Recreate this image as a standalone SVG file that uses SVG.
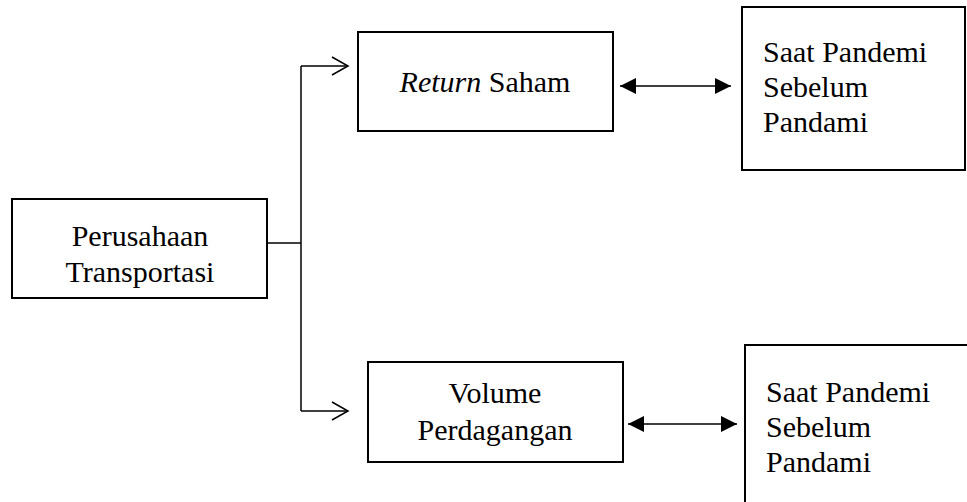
<svg xmlns="http://www.w3.org/2000/svg" width="967" height="502" viewBox="0 0 967 502">
<style>
.box{fill:#fff;stroke:#000;stroke-width:2}
.t{font-family:'Liberation Serif','Times New Roman',serif;font-size:30px;fill:#000}
.c{text-anchor:middle}
.ln{fill:none;stroke:#000;stroke-width:1.5}
</style>
<defs>
<marker id="open" markerWidth="20" markerHeight="24" refX="17" refY="10" orient="auto" markerUnits="userSpaceOnUse">
<path d="M1,1 L17,10 L1,19" fill="none" stroke="#000" stroke-width="1.5"/>
</marker>
<marker id="fill" markerWidth="18" markerHeight="18" refX="16" refY="8" orient="auto-start-reverse" markerUnits="userSpaceOnUse">
<path d="M0,0 L16,8 L0,16 Z" fill="#000"/>
</marker>
</defs>
<rect width="967" height="502" fill="#fff"/>
<g id="connectors">
<path class="ln" d="M267,243 H301"/>
<path class="ln" d="M301,66 V411"/>
<path class="ln" d="M301,66 H348" marker-end="url(#open)"/>
<path class="ln" d="M301,411 H348" marker-end="url(#open)"/>
<path class="ln" d="M620,86 H731" marker-start="url(#fill)" marker-end="url(#fill)"/>
<path class="ln" d="M628,424 H737" marker-start="url(#fill)" marker-end="url(#fill)"/>
</g>
<g id="perusahaan">
<rect class="box" x="12" y="199" width="255" height="99"/>
<text class="t c" x="140" y="246">Perusahaan</text>
<text class="t c" x="140" y="282">Transportasi</text>
</g>
<g id="return-saham">
<rect class="box" x="358" y="32" width="255" height="99"/>
<text class="t c" x="485" y="92"><tspan font-style="italic">Return</tspan> Saham</text>
</g>
<g id="pandemi-1">
<rect class="box" x="742" y="7" width="223" height="163"/>
<text class="t" x="763" y="62">Saat Pandemi</text>
<text class="t" x="763" y="97">Sebelum</text>
<text class="t" x="763" y="132">Pandami</text>
</g>
<g id="volume">
<rect class="box" x="368" y="362" width="255" height="100"/>
<text class="t c" x="495" y="403">Volume</text>
<text class="t c" x="495" y="440">Perdagangan</text>
</g>
<g id="pandemi-2">
<rect class="box" x="745" y="345" width="230" height="162"/>
<text class="t" x="766" y="402">Saat Pandemi</text>
<text class="t" x="766" y="437">Sebelum</text>
<text class="t" x="766" y="472">Pandami</text>
</g>
</svg>
